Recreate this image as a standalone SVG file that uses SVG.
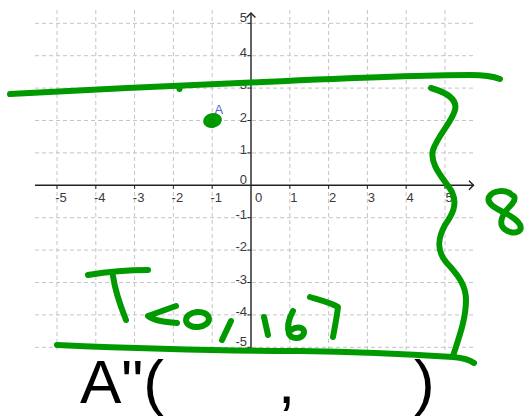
<svg xmlns="http://www.w3.org/2000/svg" width="526" height="416" viewBox="0 0 526 416">
<style>
.grid{stroke:#c4c4c4;stroke-width:1;stroke-dasharray:4 3;fill:none}
.axis{stroke:#222;stroke-width:1.4;fill:none}
.tick{stroke:#222;stroke-width:1;fill:none}
.lab{font-family:"Liberation Sans",Arial,sans-serif;font-size:13px;fill:#3a3a3a}
.xl{text-anchor:middle}
.yl{text-anchor:end}
.ink{stroke:#009a00;stroke-width:6;fill:none;stroke-linecap:round;stroke-linejoin:round}
.big{font-family:"Liberation Sans",Arial,sans-serif;font-size:62px;fill:#000}
</style>
<rect width="526" height="416" fill="#fff"/>
<g id="grid">
<path class="grid" d="M57,10V352M95.8,10V352M134.6,10V352M173.4,10V352M212.2,10V352M289.8,10V352M328.6,10V352M367.4,10V352M406.2,10V352M445,10V352"/>
<path class="grid" d="M35,23.3H474M35,55.7H474M35,88.1H474M35,120.5H474M35,152.9H474M35,217.7H474M35,250.1H474M35,282.5H474M35,314.9H474M35,347.3H474"/>
</g>
<g id="axes">
<path class="axis" d="M35,185.3H473.5M251,13V352"/>
<path class="axis" d="M469,180.8L473.5,185.3L469,189.8M246.6,17.4L251,13L255.4,17.4"/>
<path class="tick" d="M57,185.3v3.5M95.8,185.3v3.5M134.6,185.3v3.5M173.4,185.3v3.5M212.2,185.3v3.5M289.8,185.3v3.5M328.6,185.3v3.5M367.4,185.3v3.5M406.2,185.3v3.5M445,185.3v3.5"/>
<path class="tick" d="M251,23.3h-3.5M251,55.7h-3.5M251,88.1h-3.5M251,120.5h-3.5M251,152.9h-3.5M251,217.7h-3.5M251,250.1h-3.5M251,282.5h-3.5M251,314.9h-3.5M251,347.3h-3.5"/>
</g>
<g id="x-labels" class="lab xl">
<text x="61" y="202">-5</text>
<text x="99.8" y="202">-4</text>
<text x="138.6" y="202">-3</text>
<text x="177.4" y="202">-2</text>
<text x="216.2" y="202">-1</text>
<text x="258.5" y="202">0</text>
<text x="293.8" y="202">1</text>
<text x="332.6" y="202">2</text>
<text x="371.4" y="202">3</text>
<text x="410.2" y="202">4</text>
<text x="449" y="202">5</text>
</g>
<g id="y-labels" class="lab yl">
<text x="247" y="22">5</text>
<text x="247" y="56.5">4</text>
<text x="247" y="89">3</text>
<text x="247" y="121.5">2</text>
<text x="247" y="154">1</text>
<text x="247" y="184">0</text>
<text x="247" y="218.5">-1</text>
<text x="247" y="251">-2</text>
<text x="247" y="283.5">-3</text>
<text x="247" y="316">-4</text>
<text x="247" y="346">-5</text>
</g>
<g id="point-A">
<ellipse cx="212.5" cy="120.5" rx="9.5" ry="7.3" transform="rotate(-12 212.5 120.5)" fill="#009a00"/>
<text x="214.5" y="113.5" font-family="'Liberation Sans',Arial,sans-serif" font-size="13" fill="#5f5fd0">A</text>
</g>
<g id="ink">
<path class="ink" d="M10,94 C100,89 170,86 263,82 C350,78 420,75 470,75 C485,75 495,77 500,79"/>
<path class="ink" stroke-width="3" d="M180,86 L179.5,89"/>
<path class="ink" d="M431,88 C445,92 458,98 455,110 C452,122 438,135 433,150 C429,165 445,180 452,192 C458,205 452,215 445,225 C438,238 436,250 446,262 C458,275 466,285 466,300 C466,320 458,340 453,356"/>
<path class="ink" d="M57,345 C150,349 250,351 300,351 C360,352 420,355 453,357 C465,358 470,360 474,363"/>
<path class="ink" d="M512,195 C506,189 493,190 489,197 C486,204 497,209 507,214 C516,219 523,225 520,230 C516,235 505,232 502,226 C499,219 506,210 512,204 C516,199 515,196 512,195 Z"/>
<path class="ink" d="M88,275 Q118,270 148,270"/>
<path class="ink" d="M113,276 C115,290 120,305 126,320"/>
<path class="ink" d="M176,306 L148,316 C155,321 165,322 177,323"/>
<ellipse class="ink" cx="197.5" cy="319.5" rx="11.5" ry="7.5" transform="rotate(-5 197.5 319.5)"/>
<path class="ink" d="M231,321 L222,340"/>
<path class="ink" d="M264,317 L268,335"/>
<path class="ink" d="M293,311 C289,318 287,327 289,334 C292,340 302,339 304,333 C305,327 297,326 291,330"/>
<path class="ink" d="M310,297 C320,300 332,303 338,307 C337,316 335,326 333,337"/>
</g>
<g id="answer" class="big">
<text y="403"><tspan x="80">A"(</tspan><tspan x="278">,</tspan><tspan x="414">)</tspan></text>
</g>
</svg>
